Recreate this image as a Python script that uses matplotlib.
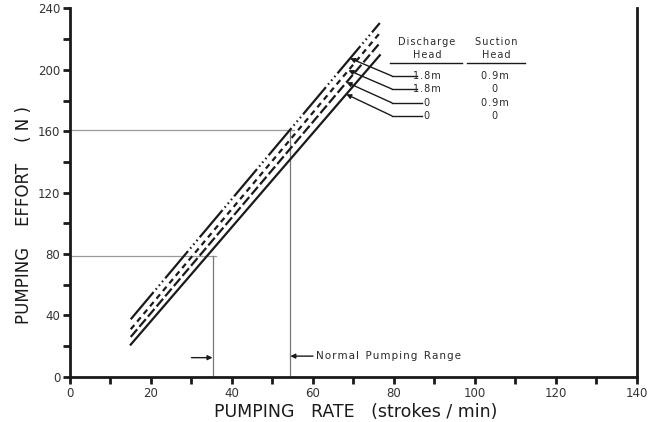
import matplotlib.pyplot as plt

# --- DATA ---
rate = [15, 76.5]
effort_lines = {
    ("1.8m", "0.9m"): [37.5, 230.5],
    ("1.8m", "0"): [31, 224],
    ("0", "0.9m"): [26, 217.5],
    ("0", "0"): [21, 209.5],
}
line_styles = [(0, (16, 1.5, 0.7, 1.5, 0.7, 1.5, 0.7, 1.5)), (0, (2.5, 2)), (0, (4.5, 1.5)), '-']

# operating points (rate, effort) marking the normal pumping range
range_low = (35.2, 79)
range_high = (54.4, 160.5)

# leader arrow tips on each line (effort value) and table row heights
tip_effort = [207.5, 199.7, 191.9, 184.1]
row_effort = [196, 187.5, 178.5, 170]

x_ticks = list(range(0, 141, 10))
x_labels = [str(t) if t % 20 == 0 else "" for t in x_ticks]
y_ticks = list(range(0, 241, 20))
y_labels = [str(t) if t % 40 == 0 else "" for t in y_ticks]

ink = '#1a1a1a'
plt.rcParams['font.family'] = 'DejaVu Sans'


def spaced(s):
    # stencil lettering is wide, add a hair space between letters
    return '\u200a'.join(s)


fig = plt.figure(figsize=(6.54, 4.22), dpi=100)
ax = fig.add_axes([0.107, 0.107, 0.867, 0.873])

# --- REFERENCE LINES ---
for x0, y0 in (range_low, range_high):
    ax.plot([0, x0 + 0.8], [y0, y0], color='#999999', lw=0.9)
    ax.plot([x0, x0], [0, y0], color='#777777', lw=0.9)

# --- PUMPING LINES ---
for (key, ys), ls in zip(effort_lines.items(), line_styles):
    ax.plot(rate, ys, color=ink, lw=1.6, linestyle=ls)

# --- TABLE / LEGEND ---
tsize = 7
tcol = '#2a2a2a'
ax.text(88.1, 218, spaced("Discharge"), ha='center', va='center', fontsize=tsize, color=tcol)
ax.text(88.1, 209.5, spaced("Head"), ha='center', va='center', fontsize=tsize, color=tcol)
ax.text(105.2, 218, spaced("Suction"), ha='center', va='center', fontsize=tsize, color=tcol)
ax.text(105.2, 209.5, spaced("Head"), ha='center', va='center', fontsize=tsize, color=tcol)
ax.plot([79, 96.8], [204.2, 204.2], color=ink, lw=1.0)
ax.plot([98, 112.3], [204.2, 204.2], color=ink, lw=1.0)

for i, ((dis, suc), ys) in enumerate(effort_lines.items()):
    slope = (ys[1] - ys[0]) / (rate[1] - rate[0])
    tip_x = rate[0] + (tip_effort[i] - ys[0]) / slope
    ry = row_effort[i]
    ax.text(88.1, ry, spaced(dis), ha='center', va='center', fontsize=tsize, color=tcol)
    ax.text(104.9, ry, spaced(suc), ha='center', va='center', fontsize=tsize, color=tcol)
    text_left = 85.8 if dis != "0" else 86.9
    ax.plot([79.5, text_left], [ry, ry], color=ink, lw=1.0)
    ax.annotate("", xy=(tip_x, tip_effort[i]), xytext=(79.5, ry),
                arrowprops=dict(arrowstyle='-|>', color=ink, lw=1.0,
                                mutation_scale=7, shrinkA=0, shrinkB=0))

# --- NORMAL PUMPING RANGE ---
ax.annotate("", xy=(range_low[0], 12.5), xytext=(30, 12.5),
            arrowprops=dict(arrowstyle='-|>', color=ink, lw=1.0, mutation_scale=7,
                            shrinkA=0, shrinkB=0))
ax.annotate("", xy=(range_high[0], 13.5), xytext=(60, 13.5),
            arrowprops=dict(arrowstyle='-|>', color=ink, lw=1.0, mutation_scale=7,
                            shrinkA=0, shrinkB=0))
ax.text(60.8, 13.5, spaced("Normal") + "  " + spaced("Pumping") + "  " + spaced("Range"),
        ha='left', va='center', fontsize=7.5, color=tcol)

# --- AXES ---
ax.set_xlim(0, 140)
ax.set_ylim(0, 240)
ax.set_xticks(x_ticks)
ax.set_xticklabels(x_labels)
ax.set_yticks(y_ticks)
ax.set_yticklabels(y_labels)
ax.tick_params(axis='both', direction='out', length=5, width=2, color=ink,
               labelsize=8.5, labelcolor='#333333', pad=2)
ax.spines['top'].set_visible(False)
for side in ('left', 'bottom', 'right'):
    ax.spines[side].set_linewidth(2)
    ax.spines[side].set_color(ink)

ax.set_xlabel("PUMPING   RATE   (strokes / min)", fontsize=12.5, color=ink)
ax.xaxis.set_label_coords(0.503, -0.07)
ax.set_ylabel("PUMPING    EFFORT    ( N )", fontsize=12, color=ink)
ax.yaxis.set_label_coords(-0.066, 0.44)

plt.savefig("out.png", dpi=100)
